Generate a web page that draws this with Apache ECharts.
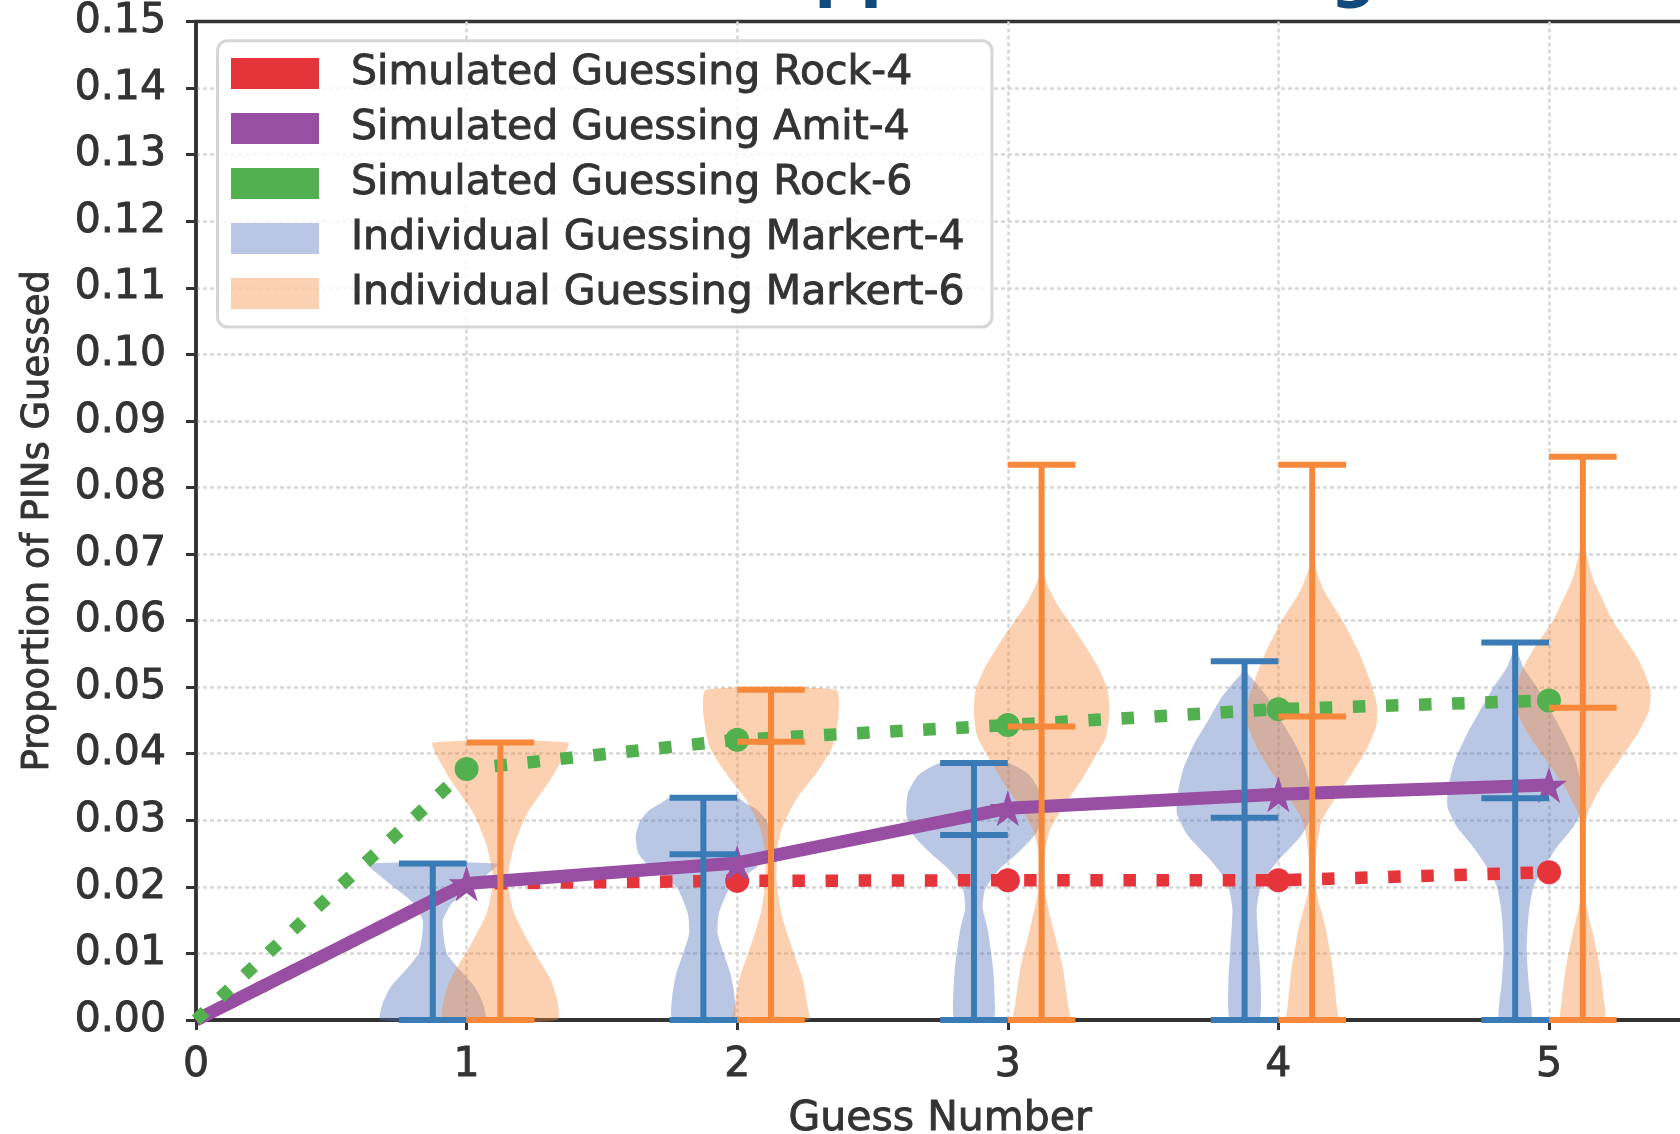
<!DOCTYPE html>
<html><head><meta charset="utf-8">
<script src="https://cdn.jsdelivr.net/npm/echarts@6/dist/echarts.min.js"></script>
<style>html,body{margin:0;padding:0;background:#fff}#c{width:1680px;height:1134px}</style>
</head><body><div id="c"></div>
<script>
// ---------- data ----------
const guessNumbers = [0, 1, 2, 3, 4, 5];
const rock4 = [0, 0.0205, 0.0209, 0.0210, 0.0210, 0.0222];
const amit4 = [0, 0.0205, 0.0236, 0.0318, 0.0339, 0.0353];
const rock6 = [0, 0.0377, 0.0421, 0.0443, 0.0467, 0.0480];

const violinGuesses = [1, 2, 3, 4, 5];
// Markert-4 (individual guessing) summary
const m4Min = [0, 0, 0, 0, 0];
const m4Median = [0, 0.0249, 0.0278, 0.0304, 0.0333];
const m4Max = [0.0235, 0.0334, 0.0386, 0.0539, 0.0567];
// Markert-6
const m6Min = [0, 0, 0, 0, 0];
const m6Median = [0, 0.0418, 0.0441, 0.0456, 0.0469];
const m6Max = [0.0417, 0.0496, 0.0834, 0.0834, 0.0846];

// violin outlines: [value, relative half-width]
const m4Shapes = [
  [[0,0.77],[0.0025,0.74],[0.005,0.62],[0.0075,0.4],[0.01,0.21],[0.0125,0.16],[0.015,0.15],[0.0175,0.28],[0.02,0.58],[0.022,0.82],[0.0235,0.97]],
  [[0,0.45],[0.0036,0.46],[0.007,0.4],[0.01,0.3],[0.013,0.21],[0.016,0.23],[0.02,0.4],[0.023,0.79],[0.025,0.96],[0.0276,1.0],[0.03,0.93],[0.0316,0.79],[0.0326,0.62],[0.0334,0.5]],
  [[0,0.28],[0.0023,0.31],[0.008,0.28],[0.0138,0.2],[0.0167,0.13],[0.0195,0.16],[0.0224,0.35],[0.0253,0.67],[0.0282,0.93],[0.031,1.0],[0.034,0.98],[0.0368,0.82],[0.0386,0.5]],
  [[0,0.21],[0.0052,0.24],[0.0109,0.21],[0.0167,0.18],[0.0207,0.26],[0.0241,0.51],[0.0276,0.83],[0.031,1.0],[0.0345,0.98],[0.0379,0.9],[0.0414,0.75],[0.0448,0.55],[0.0483,0.35],[0.0505,0.18],[0.052,0.05],[0.0539,0]],
  [[0,0.23],[0.003,0.23],[0.0055,0.2],[0.0105,0.17],[0.016,0.2],[0.02,0.27],[0.023,0.42],[0.026,0.62],[0.029,0.86],[0.032,1.0],[0.035,0.99],[0.039,0.89],[0.043,0.71],[0.0465,0.52],[0.05,0.32],[0.053,0.12],[0.0555,0.03],[0.0567,0]]
];
const m6Shapes = [
  [[0,0.84],[0.003,0.84],[0.0061,0.74],[0.0111,0.45],[0.0161,0.2],[0.0211,0.11],[0.0261,0.2],[0.0311,0.4],[0.0361,0.74],[0.0395,0.93],[0.0417,1.0]],
  [[0,0.56],[0.0021,0.54],[0.0061,0.47],[0.0111,0.3],[0.0161,0.15],[0.0211,0.08],[0.0261,0.1],[0.0291,0.17],[0.0331,0.37],[0.0371,0.67],[0.0411,0.91],[0.046,1.0],[0.0496,0.96]],
  [[0,0.41],[0.0023,0.39],[0.008,0.31],[0.0138,0.17],[0.0195,0.05],[0.0253,0.05],[0.0287,0.13],[0.0322,0.33],[0.0356,0.56],[0.039,0.76],[0.0425,0.95],[0.046,1.0],[0.0494,0.98],[0.0529,0.84],[0.0563,0.64],[0.0598,0.41],[0.0626,0.22],[0.0667,0.04],[0.075,0.01],[0.0834,0]],
  [[0,0.37],[0.0023,0.36],[0.008,0.3],[0.0138,0.2],[0.0195,0.06],[0.0253,0.06],[0.0299,0.14],[0.0333,0.34],[0.0368,0.57],[0.0408,0.81],[0.0443,0.95],[0.0477,0.95],[0.0511,0.85],[0.0552,0.69],[0.0598,0.46],[0.0644,0.18],[0.0684,0.04],[0.076,0.01],[0.0834,0]],
  [[0,0.32],[0.003,0.31],[0.008,0.25],[0.013,0.15],[0.018,0.04],[0.028,0.03],[0.031,0.07],[0.035,0.27],[0.039,0.54],[0.043,0.81],[0.0465,0.98],[0.0495,1.0],[0.0525,0.9],[0.0555,0.74],[0.06,0.44],[0.063,0.3],[0.0663,0.15],[0.072,0.02],[0.0846,0]]
];

const yTicks = [0,0.01,0.02,0.03,0.04,0.05,0.06,0.07,0.08,0.09,0.10,0.11,0.12,0.13,0.14,0.15];

// NOTE: the reference image is cropped through its title, so only a few letter
// descenders ("pp" ... "g") are visible. The real title cannot be read; the text
// below is a PLACEHOLDER chosen only so that its descenders fall in the same places.
const titlePlaceholder = 'Attack Approach Timing Results';

// ---------- style ----------
const RED = '#e6353a', PURPLE = '#984ea3', GREEN = '#52b04f';
const BLUE_LINE = '#3a7bb6', ORANGE_LINE = '#f5883a';
const BLUE_BODY = 'rgba(80,115,188,0.4)', ORANGE_BODY = 'rgba(248,140,60,0.4)';
const OFFSET = 0.125, HALF = 0.25, CAP = 0.125;
const TXT = '#333333';
const FONT = 'DejaVu Sans';
const TXT_STYLE = {fontFamily: FONT, fontSize: 41, color: TXT, textBorderColor: TXT, textBorderWidth: 0.9};
const STAR = 'path://M0,-1 L0.2245,-0.309 L0.951,-0.309 L0.363,0.118 L0.588,0.809 L0,0.382 L-0.588,0.809 L-0.363,0.118 L-0.951,-0.309 L-0.2245,-0.309 Z';

// hiddenMarkers: indices whose marker is not drawn (origin, or covered in the original)
function lineData(vals, hiddenMarkers) {
  return guessNumbers.map((x, i) => hiddenMarkers.includes(i) ? {value: [x, vals[i]], symbol: 'none'} : {value: [x, vals[i]]});
}
function dottedLine(name, vals, color, z, hidden) {
  return {
    type: 'line', name, z, data: lineData(vals, hidden), symbol: 'circle', symbolSize: 24, showSymbol: true,
    lineStyle: {color, width: 12.5, type: [12.5, 20.6], cap: 'butt'},
    itemStyle: {color}, emphasis: {disabled: true}, silent: true
  };
}
function violinBodies(name, offset, shapes, mins, maxs, color) {
  return {
    type: 'custom', name, z: 1, silent: true,
    data: violinGuesses.map((g, i) => [g + offset, mins[i], maxs[i]]),
    encode: {x: 0, y: [1, 2]},
    itemStyle: {color},
    renderItem: (params, api) => {
      const cx = api.value(0);
      const prof = shapes[params.dataIndex];
      const left = prof.map(([y, w]) => api.coord([cx - w * HALF, y]));
      const right = prof.slice().reverse().map(([y, w]) => api.coord([cx + w * HALF, y]));
      return {type: 'polygon', shape: {points: left.concat(right), smooth: 0.2}, style: {fill: color}};
    }
  };
}
function violinStats(name, offset, mins, meds, maxs, color) {
  return {
    type: 'custom', name, z: 4, silent: true,
    data: violinGuesses.map((g, i) => [g + offset, mins[i], meds[i], maxs[i]]),
    encode: {x: 0, y: [1, 2, 3]},
    itemStyle: {color},
    renderItem: (params, api) => {
      const cx = api.value(0);
      const seg = (x1, y1, x2, y2) => {
        const a = api.coord([x1, y1]), b = api.coord([x2, y2]);
        return {type: 'line', shape: {x1: a[0], y1: a[1], x2: b[0], y2: b[1]}, style: {stroke: color, lineWidth: 6, lineCap: 'butt'}};
      };
      const lo = api.value(1), md = api.value(2), hi = api.value(3);
      return {type: 'group', children: [
        seg(cx, lo, cx, hi),
        seg(cx - CAP, lo, cx + CAP, lo),
        seg(cx - CAP, md, cx + CAP, md),
        seg(cx - CAP, hi, cx + CAP, hi)
      ]};
    }
  };
}

const chart = echarts.init(document.getElementById('c'), null, {renderer: 'canvas'});
chart.setOption({
  animation: false,
  backgroundColor: '#ffffff',
  textStyle: {fontFamily: FONT, color: TXT},
  graphic: [{
    type: 'text', x: 508, y: -22, z: 10,
    style: {text: titlePlaceholder, font: 'bold 64px "DejaVu Sans"', fill: '#124a7c', verticalAlign: 'middle'}
  }],
  grid: {left: 196, top: 21.5, width: 1488.3, height: 998.5, show: true, borderColor: '#333', borderWidth: 3.5,
         backgroundColor: 'transparent', containLabel: false, outerBoundsMode: 'none'},
  legend: {
    orient: 'vertical', left: 217.5, top: 40.7, padding: [11.9, 27, 12.5, 13.5],
    itemWidth: 88, itemHeight: 31, itemGap: 13.1, icon: 'rect',
    borderColor: '#d6d6d6', borderWidth: 3, borderRadius: 10, backgroundColor: 'rgba(255,255,255,0.8)',
    textStyle: Object.assign({}, TXT_STYLE, {lineHeight: 41, padding: [0, 0, 0, 27]}),
    itemStyle: {borderWidth: 0},
    selectedMode: false, z: 10,
    data: ['Simulated Guessing Rock-4', 'Simulated Guessing Amit-4', 'Simulated Guessing Rock-6', 'Individual Guessing Markert-4', 'Individual Guessing Markert-6']
  },
  xAxis: {
    type: 'value', min: 0, max: 5.5, interval: 1,
    name: 'Guess Number', nameLocation: 'middle', nameGap: 79,
    nameTextStyle: TXT_STYLE,
    axisLine: {show: true, lineStyle: {color: '#333', width: 4}},
    axisTick: {show: true, length: 10, lineStyle: {color: '#333', width: 3}},
    axisLabel: Object.assign({}, TXT_STYLE, {margin: 25, showMaxLabel: false, formatter: v => Number.isInteger(v) ? String(v) : ''}),
    splitLine: {show: true, showMinLine: false, showMaxLine: false, lineStyle: {color: '#d6d6d6', width: 2.5, type: [4, 3]}}
  },
  yAxis: {
    type: 'value', min: 0, max: 0.15, interval: 0.01,
    name: 'Proportion of PINs Guessed', nameLocation: 'middle', nameGap: 139,
    nameTextStyle: {fontFamily: FONT, fontSize: 37, color: TXT, textBorderColor: TXT, textBorderWidth: 0.9},
    axisLine: {show: true, lineStyle: {color: '#333', width: 3.5}},
    axisTick: {show: true, length: 10, lineStyle: {color: '#333', width: 3}},
    axisLabel: Object.assign({}, TXT_STYLE, {margin: 30, formatter: v => {
      const t = yTicks.find(k => Math.abs(k - v) < 1e-9); return (t === undefined ? v : t).toFixed(2); }}),
    splitLine: {show: true, showMinLine: false, showMaxLine: false, lineStyle: {color: '#d6d6d6', width: 2.5, type: [4, 3]}}
  },
  series: [
    violinBodies('Individual Guessing Markert-4', -OFFSET, m4Shapes, m4Min, m4Max, BLUE_BODY),
    violinBodies('Individual Guessing Markert-6', OFFSET, m6Shapes, m6Min, m6Max, ORANGE_BODY),
    dottedLine('Simulated Guessing Rock-4', rock4, RED, 2.5, [0, 1]),
    {
      type: 'line', name: 'Simulated Guessing Amit-4', z: 3, data: lineData(amit4, [0]), symbol: STAR, symbolSize: 36, showSymbol: true,
      lineStyle: {color: PURPLE, width: 13}, itemStyle: {color: PURPLE}, emphasis: {disabled: true}, silent: true
    },
    dottedLine('Simulated Guessing Rock-6', rock6, GREEN, 3, [0]),
    violinStats('Markert-4 range', -OFFSET, m4Min, m4Median, m4Max, BLUE_LINE),
    violinStats('Markert-6 range', OFFSET, m6Min, m6Median, m6Max, ORANGE_LINE)
  ]
});
</script></body></html>
